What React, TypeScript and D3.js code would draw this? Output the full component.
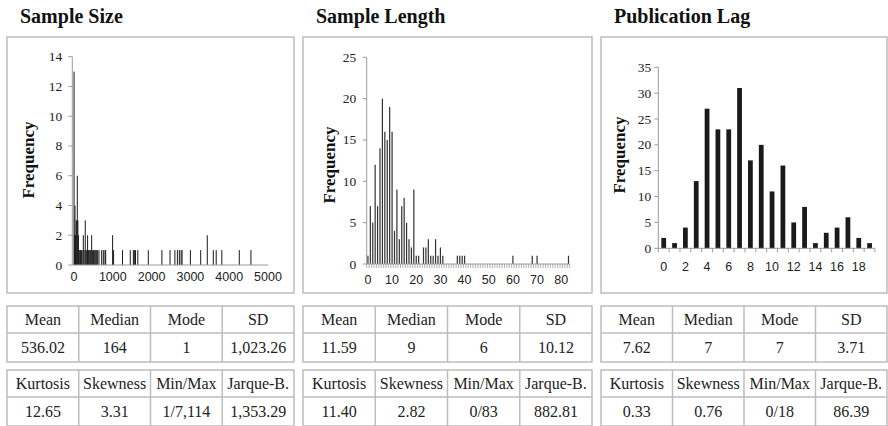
import React from "react";
import * as d3 from "d3";

// Sample Size: [value, frequency]
const sampleSizeBars: [number, number][] = [
  [1, 13], [15, 2], [25, 4], [40, 2], [55, 3], [70, 3], [85, 6], [100, 3], [115, 2],
  [130, 1], [150, 1], [170, 1], [190, 1], [210, 1], [240, 2], [260, 1], [290, 3],
  [310, 1], [330, 1], [350, 2], [370, 1], [390, 1], [410, 1], [430, 1], [455, 2],
  [480, 1], [500, 1], [524, 1], [558, 1], [584, 1], [610, 1], [644, 1], [713, 1],
  [756, 1], [799, 1], [816, 1], [995, 2], [1020, 1], [1250, 1], [1450, 1], [1530, 1],
  [1555, 1], [1585, 1], [1645, 1], [1915, 1], [2265, 1], [2475, 1], [2600, 1],
  [2665, 1], [2715, 1], [2760, 1], [2785, 1], [3000, 1], [3265, 1], [3435, 2],
  [3590, 1], [3665, 1], [3810, 1], [4260, 1], [4560, 1],
];
const sampleSizeXTicks = [0, 1000, 2000, 3000, 4000, 5000];
const sampleSizeYTicks = [0, 2, 4, 6, 8, 10, 12, 14];

// Sample Length: frequency for 0..83
const sampleLengthCounts = [
  1, 7, 5, 12, 7, 14, 20, 16, 15, 19, 16, 4, 9, 3, 7, 8, 5, 3, 2, 9,
  1, 1, 0, 2, 2, 3, 1, 1, 3, 1, 2, 1, 0, 0, 0, 0, 0, 1, 1, 1,
  1, 0, 0, 0, 0, 0, 0, 0, 0, 0, 0, 0, 0, 0, 0, 0, 0, 0, 0, 0,
  1, 0, 0, 0, 0, 0, 0, 0, 1, 0, 1, 0, 0, 0, 0, 0, 0, 0, 0, 0,
  0, 0, 0, 1,
];
const sampleLengthXTicks = [0, 10, 20, 30, 40, 50, 60, 70, 80];
const sampleLengthYTicks = [0, 5, 10, 15, 20, 25];

// Publication Lag: frequency for 0..19
const pubLagCounts = [2, 1, 4, 13, 27, 23, 23, 31, 17, 20, 11, 16, 5, 8, 1, 3, 4, 6, 2, 1];
const pubLagXTicks = [0, 2, 4, 6, 8, 10, 12, 14, 16, 18];
const pubLagYTicks = [0, 5, 10, 15, 20, 25, 30, 35];

const titles = ["Sample Size", "Sample Length", "Publication Lag"];
const statHeadersA = ["Mean", "Median", "Mode", "SD"];
const statHeadersB = ["Kurtosis", "Skewness", "Min/Max", "Jarque-B."];
const sampleSizeStats = [["536.02", "164", "1", "1,023.26"], ["12.65", "3.31", "1/7,114", "1,353.29"]];
const sampleLengthStats = [["11.59", "9", "6", "10.12"], ["11.40", "2.82", "0/83", "882.81"]];
const pubLagStats = [["7.62", "7", "7", "3.71"], ["0.33", "0.76", "0/18", "86.39"]];

const serif = "'Liberation Serif', 'Times New Roman', serif";
const sans = "'Liberation Sans', Arial, sans-serif";
const borderColor = "#bdbdbd";
const axisColor = "#9a9a9a";
const barColor = "#1a1a1a";

const panels = [
  { x: 7, w: 287 },
  { x: 303, w: 289 },
  { x: 601, w: 286 },
];

const YAxis = ({ scale, ticks, x, gap }) => (
  <g>
    <line x1={x} x2={x} y1={scale(0)} y2={scale(ticks[ticks.length - 1])} stroke={axisColor} />
    {ticks.map((t) => (
      <g key={t}>
        <line x1={x - 4} x2={x} y1={scale(t)} y2={scale(t)} stroke={axisColor} />
        <text x={x - gap} y={scale(t) + 4.5} textAnchor="end" fontFamily={serif} fontSize={13.5} fill="#222">
          {t}
        </text>
      </g>
    ))}
  </g>
);

const FreqLabel = ({ x, y }) => (
  <text
    transform={`translate(${x},${y}) rotate(-90)`}
    textAnchor="middle"
    dominantBaseline="central"
    fontFamily={serif}
    fontWeight="bold"
    fontSize={17}
    fill="#111"
  >
    Frequency
  </text>
);

const StatsTable = ({ x, w, stats }) => {
  const cols = d3.range(5).map((i) => x + (w * i) / 4);
  const blocks = [
    { top: 306, mid: 333, bottom: 362, head: statHeadersA, vals: stats[0] },
    { top: 370, mid: 397, bottom: 426, head: statHeadersB, vals: stats[1] },
  ];
  return (
    <g>
      {blocks.map((b, bi) => (
        <g key={bi}>
          <rect x={x} y={b.top} width={w} height={b.bottom - b.top} fill="none" stroke={borderColor} strokeWidth={1.5} />
          <line x1={x} x2={x + w} y1={b.mid} y2={b.mid} stroke={borderColor} strokeWidth={1.5} />
          {cols.slice(1, 4).map((cx) => (
            <line key={cx} x1={cx} x2={cx} y1={b.top} y2={b.bottom} stroke={borderColor} strokeWidth={1.5} />
          ))}
          {b.head.map((h, i) => (
            <text key={h} x={(cols[i] + cols[i + 1]) / 2} y={(b.top + b.mid) / 2 + 5.5} textAnchor="middle" fontFamily={serif} fontSize={16} fill="#222">
              {h}
            </text>
          ))}
          {b.vals.map((v, i) => (
            <text key={i} x={(cols[i] + cols[i + 1]) / 2} y={(b.mid + b.bottom) / 2 + 5.5} textAnchor="middle" fontFamily={serif} fontSize={16} fill="#222">
              {v}
            </text>
          ))}
        </g>
      ))}
    </g>
  );
};

const SampleSizeChart = () => {
  const x = d3.scaleLinear().domain([0, 5000]).range([74, 268]);
  const y = d3.scaleLinear().domain([0, 14]).range([265, 56.7]);
  const axisX = 72.3;
  return (
    <g>
      {sampleSizeBars.map(([v, c]) => (
        <rect key={v} x={x(v) - 0.5} y={y(c)} width={1} height={y(0) - y(c)} fill={barColor} />
      ))}
      <YAxis scale={y} ticks={sampleSizeYTicks} x={axisX} gap={10} />
      <line x1={axisX} x2={268.3} y1={y(0)} y2={y(0)} stroke={axisColor} />
      {sampleSizeXTicks.map((t) => (
        <text key={t} x={x(t)} y={281} textAnchor="middle" fontFamily={sans} fontSize={12.5} fill="#222">
          {t}
        </text>
      ))}
      <FreqLabel x={28} y={160} />
    </g>
  );
};

const SampleLengthChart = () => {
  const x = d3.scaleBand<number>().domain(d3.range(sampleLengthCounts.length)).range([366.7, 569.7]);
  const y = d3.scaleLinear().domain([0, 25]).range([264, 57.3]);
  const bw = x.bandwidth();
  return (
    <g>
      {sampleLengthCounts.map((c, i) =>
        c > 0 ? (
          <rect key={i} x={x(i)! + bw * 0.25} y={y(c)} width={bw * 0.5} height={y(0) - y(c)} fill="#333" />
        ) : null
      )}
      <YAxis scale={y} ticks={sampleLengthYTicks} x={366.7} gap={10.5} />
      <line x1={366.7} x2={569.7} y1={y(0)} y2={y(0)} stroke={axisColor} />
      {d3.range(sampleLengthCounts.length + 1).map((i) => {
        const px = 366.7 + i * bw;
        return <line key={i} x1={px} x2={px} y1={y(0)} y2={y(0) + 4} stroke={axisColor} strokeWidth={0.8} />;
      })}
      {sampleLengthXTicks.map((t) => (
        <text key={t} x={x(t)! + bw / 2} y={283.5} textAnchor="middle" fontFamily={sans} fontSize={12.5} fill="#222">
          {t}
        </text>
      ))}
      <FreqLabel x={329} y={165} />
    </g>
  );
};

const PubLagChart = () => {
  const x = d3.scaleBand<number>().domain(d3.range(pubLagCounts.length)).range([658.3, 875]);
  const y = d3.scaleLinear().domain([0, 35]).range([248.3, 67.3]);
  const bw = x.bandwidth();
  return (
    <g>
      {pubLagCounts.map((c, i) => (
        <rect key={i} x={x(i)! + bw * 0.28} y={y(c)} width={bw * 0.44} height={y(0) - y(c)} fill={barColor} />
      ))}
      <YAxis scale={y} ticks={pubLagYTicks} x={658.3} gap={7} />
      <line x1={658.3} x2={875} y1={y(0)} y2={y(0)} stroke={axisColor} />
      {d3.range(pubLagCounts.length + 1).map((i) => {
        const px = 658.3 + i * bw;
        return <line key={i} x1={px} x2={px} y1={y(0)} y2={y(0) + 4} stroke={axisColor} />;
      })}
      {pubLagXTicks.map((t) => (
        <text key={t} x={x(t)! + bw / 2} y={271} textAnchor="middle" fontFamily={sans} fontSize={12.5} fill="#222">
          {t}
        </text>
      ))}
      <FreqLabel x={619} y={155} />
    </g>
  );
};

const App = () => {
  const allStats = [sampleSizeStats, sampleLengthStats, pubLagStats];
  return (
    <div style={{ position: "absolute", left: 0, top: 0 }}>
      <svg width={888} height={426} style={{ display: "block", background: "#fff" }}>
        {panels.map((p, i) => (
          <g key={i}>
            <text x={p.x + 13} y={23} fontFamily={serif} fontWeight="bold" fontSize={20} fill="#111">
              {titles[i]}
            </text>
            <rect x={p.x} y={37} width={p.w} height={256} fill="none" stroke={borderColor} strokeWidth={1.5} />
            <StatsTable x={p.x} w={p.w} stats={allStats[i]} />
          </g>
        ))}
        <SampleSizeChart />
        <SampleLengthChart />
        <PubLagChart />
      </svg>
    </div>
  );
};

export default App;
